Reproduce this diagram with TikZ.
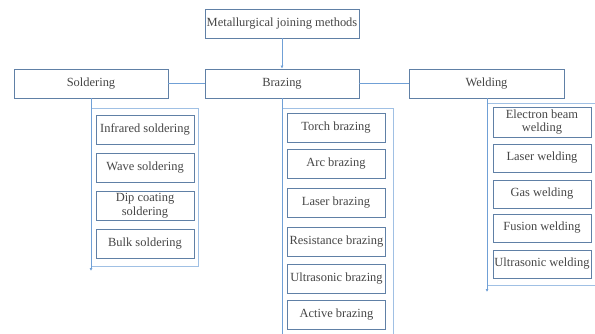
\documentclass[tikz,border=0pt]{standalone}
\usepackage{fontspec}
\newfontfamily\diagfont{Liberation Serif}
\usetikzlibrary{arrows.meta, positioning}
\definecolor{boxline}{RGB}{96,128,166}
\definecolor{linkline}{RGB}{112,160,214}
\definecolor{groupline}{RGB}{160,192,228}
\definecolor{txt}{RGB}{70,70,70}

\begin{document}
\begin{tikzpicture}[
    x=1bp, y=-1bp,
    box/.style={rectangle, draw=boxline, line width=0.8bp, fill=white, align=center, text=txt, font=\diagfont\fontsize{12.5}{14}\selectfont, inner sep=1bp, minimum width=154bp, minimum height=29bp},
    smallbox/.style={box, minimum width=98bp},
    group/.style={draw=groupline, line width=1bp},
    link/.style={draw=linkline, line width=0.8bp},
    arrow/.style={link, -{Latex[length=3bp, width=3bp]}}
]
\clip (0,0) rectangle (595,333);

% top level
\node[box] (joining) at (282,23.5) {Metallurgical joining methods};
\node[box] (solder) at (91,83.5) {Soldering};
\node[box] (braze) at (282,83.5) {Brazing};
\node[box, minimum width=155bp] (weld) at (486.5,83.5) {Welding};

\draw[arrow] (joining) -- (braze);
\draw[link] (solder) -- (braze);
\draw[link] (braze) -- (weld);

% group frames
\draw[group] (91,108) rectangle (198,266);
\draw[group] (282,108) rectangle (393,345);
\draw[group] (487,103) rectangle (600,285);

\coordinate (solderend) at (91,271);
\coordinate (brazeend) at (282,345);
\coordinate (weldend) at (487,292);
\draw[arrow] (solder.south) -- (solderend);
\draw[link] (braze.south) -- (brazeend);
\draw[arrow] (weld.south -| weldend) -- (weldend);

% soldering
\node[smallbox] (infrared) at (145,129.5) {Infrared soldering};
\node[smallbox] (wave) at (145,167.5) {Wave soldering};
\node[smallbox] (dip) at (145,206) {Dip coating\\soldering};
\node[smallbox] (bulk) at (145,243.5) {Bulk soldering};

% brazing
\node[smallbox] (torch) at (336,127.5) {Torch brazing};
\node[smallbox] (arc) at (336,163.5) {Arc brazing};
\node[smallbox] (laserbr) at (336,203) {Laser brazing};
\node[smallbox] (resist) at (336.5,241.5) {Resistance brazing};
\node[smallbox] (ultrabr) at (336.5,278.5) {Ultrasonic brazing};
\node[smallbox] (active) at (336.5,314.5) {Active brazing};

% welding
\node[smallbox, minimum height=30bp] (ebeam) at (542,122) {Electron beam\\welding};
\node[smallbox, minimum height=28bp] (laserwd) at (542,158) {Laser welding};
\node[smallbox, minimum height=28bp] (gas) at (542,194) {Gas welding};
\node[smallbox, minimum height=28bp] (fusion) at (542,228) {Fusion welding};
\node[smallbox, minimum height=28bp] (ultrawd) at (542,264) {Ultrasonic welding};
\end{tikzpicture}
\end{document}
